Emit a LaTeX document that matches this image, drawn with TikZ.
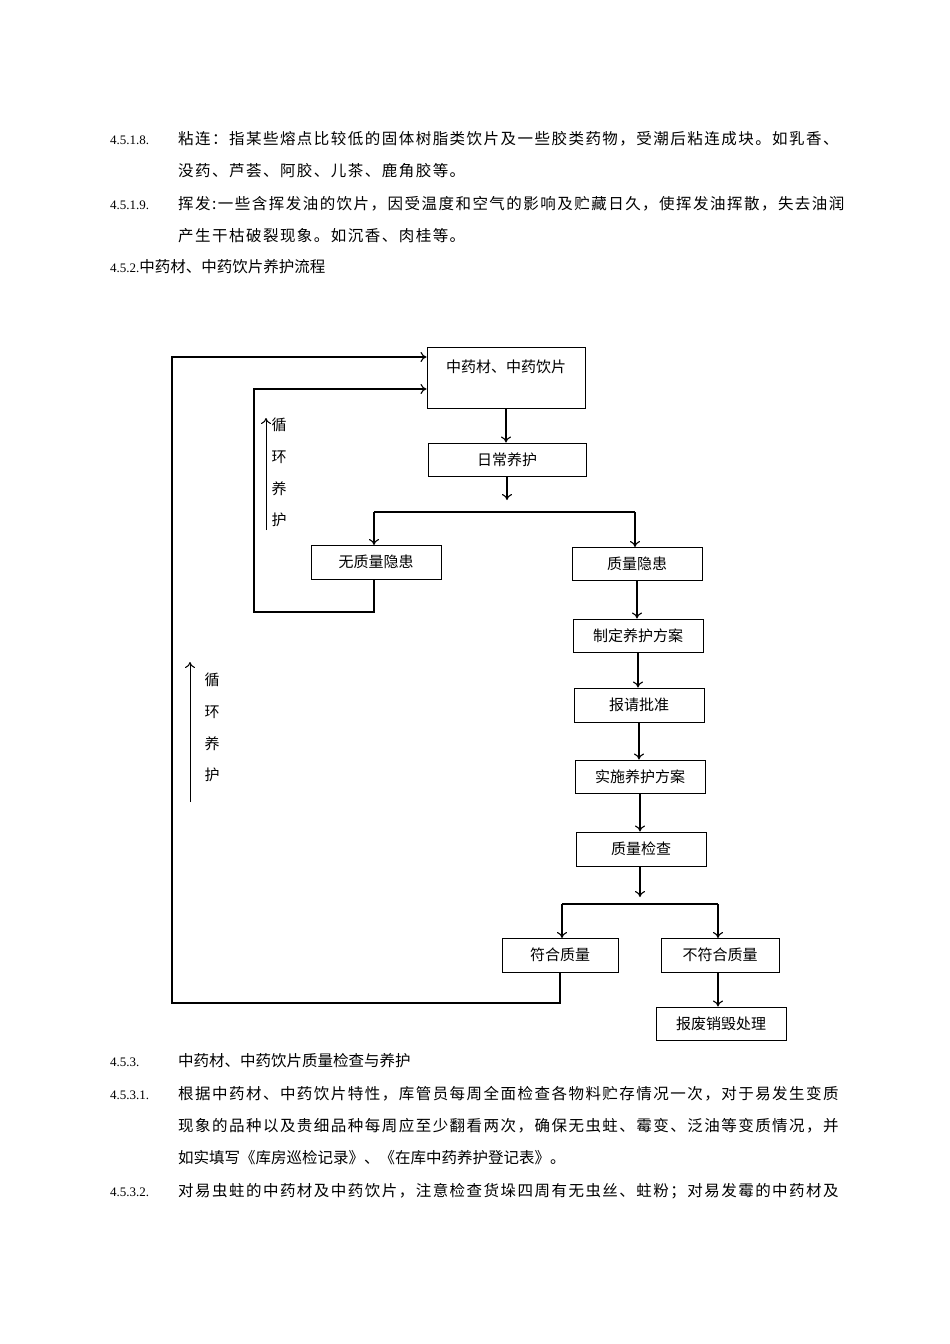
\documentclass[tikz,border=0pt]{standalone}
\usepackage{fontspec}
\usetikzlibrary{arrows.meta}
\setmainfont{Liberation Serif}
\newfontfamily\cjk[LetterSpace=9.5]{Noto Sans CJK SC}
\newfontfamily\cjkn{Noto Sans CJK SC}
\begin{document}
\begin{tikzpicture}[x=1pt,y=-1pt,
  txt/.style={anchor=base west,inner sep=0pt,font=\fontsize{15.5}{18}\selectfont\cjk},
  num/.style={anchor=base west,inner sep=0pt,font=\fontsize{13}{16}\selectfont},
  fbox/.style={draw,line width=1pt,inner sep=0pt,font=\fontsize{15}{18}\selectfont\cjkn},
  arr/.style={-{To[length=6pt,width=10pt]},line width=1.1pt},
  ln/.style={line width=1.1pt},
  vlab/.style={inner sep=0pt,font=\fontsize{15}{18}\selectfont\cjkn}]
\useasboundingbox (0,0) rectangle (950,1344);
% body text
\node[num] (n1) at (110,144) {4.5.1.8.};
\node[txt] (t1) at (178,144) {粘连：指某些熔点比较低的固体树脂类饮片及一些胶类药物，受潮后粘连成块。如乳香、};
\node[txt] (t2) at (178,176) {没药、芦荟、阿胶、儿茶、鹿角胶等。};
\node[num] (n2) at (110,209) {4.5.1.9.};
\node[txt] (t3) at (178,209) {挥发:一些含挥发油的饮片，因受温度和空气的影响及贮藏日久，使挥发油挥散，失去油润};
\node[txt] (t4) at (178,241) {产生干枯破裂现象。如沉香、肉桂等。};
\node[txt,font=\fontsize{15.5}{18}\selectfont\cjkn] (t5) at (110,272) {\fontsize{13}{16}\selectfont\rmfamily 4.5.2.\fontsize{15.5}{18}\selectfont\cjkn 中药材、中药饮片养护流程};
\node[num] (n3) at (110,1066) {4.5.3.};
\node[txt,font=\fontsize{15.5}{18}\selectfont\cjkn] (t6) at (178,1066) {中药材、中药饮片质量检查与养护};
\node[num] (n4) at (110,1099) {4.5.3.1.};
\node[txt] (t7) at (178,1099) {根据中药材、中药饮片特性，库管员每周全面检查各物料贮存情况一次，对于易发生变质};
\node[txt] (t8) at (178,1131) {现象的品种以及贵细品种每周应至少翻看两次，确保无虫蛀、霉变、泛油等变质情况，并};
\node[txt,font=\fontsize{15.5}{18}\selectfont\cjkn] (t9) at (178,1163) {如实填写《库房巡检记录》、《在库中药养护登记表》。};
\node[num] (n5) at (110,1196) {4.5.3.2.};
\node[txt] (t10) at (178,1196) {对易虫蛀的中药材及中药饮片，注意检查货垛四周有无虫丝、蛀粉；对易发霉的中药材及};
% boxes
\node[fbox,minimum width=158pt,minimum height=61pt] (A) at (506,377.5) {};
\node[inner sep=0pt,font=\fontsize{15}{18}\selectfont\cjkn] (At) at (506,367) {中药材、中药饮片};
\node[fbox,minimum width=158pt,minimum height=33pt] (B) at (507,459.5) {日常养护};
\node[fbox,minimum width=130pt,minimum height=34pt] (C) at (376,562) {无质量隐患};
\node[fbox,minimum width=130pt,minimum height=33pt] (D) at (637,563.5) {质量隐患};
\node[fbox,minimum width=130pt,minimum height=33pt] (E) at (638,635.5) {制定养护方案};
\node[fbox,minimum width=130pt,minimum height=34pt] (F) at (639,705) {报请批准};
\node[fbox,minimum width=130pt,minimum height=33pt] (G) at (640,776.5) {实施养护方案};
\node[fbox,minimum width=130pt,minimum height=34pt] (H) at (641,849) {质量检查};
\node[fbox,minimum width=116pt,minimum height=34pt] (I) at (560,955) {符合质量};
\node[fbox,minimum width=118pt,minimum height=34pt] (J) at (720,955) {不符合质量};
\node[fbox,minimum width=130pt,minimum height=33pt] (K) at (721,1023.5) {报废销毁处理};
% connectors
\coordinate (b1) at (507,500);
\coordinate (h1) at (640,897);
\draw[arr] (A.south) -- (A.south |- B.north);
\draw[arr] (B.south) -- (b1);
\draw[ln] (374,512) -- (635,512);
\draw[arr] (374,512) -- (374,545);
\draw[arr] (635,512) -- (635,547);
\draw[arr] (D.south -| 637,0) -- (E.north -| 637,0);
\draw[arr] (E.south -| 638,0) -- (F.north -| 638,0);
\draw[arr] (F.south -| 639,0) -- (G.north -| 639,0);
\draw[arr] (G.south -| 640,0) -- (H.north -| 640,0);
\draw[arr] (H.south -| 640,0) -- (h1);
\draw[ln] (562,904) -- (718,904);
\draw[arr] (562,904) -- (562,938);
\draw[arr] (718,904) -- (718,938);
\draw[arr] (J.south -| 718,0) -- (K.north -| 718,0);
% loops
\draw[arr] (C.south -| 374,0) -- (374,612) -- (254,612) -- (254,389) -- (A.west |- 0,389);
\draw[arr] (I.south -| 560,0) -- (560,1003) -- (172,1003) -- (172,357) -- (A.west |- 0,357);
% labels
\draw[arr,line width=1pt] (266,530) -- (266,418);
\node[vlab] (v1) at (279,425) {循};
\node[vlab] (v2) at (279,457) {环};
\node[vlab] (v3) at (279,489) {养};
\node[vlab] (v4) at (279,520) {护};
\draw[arr,line width=1pt] (190,802) -- (190,662);
\node[vlab] (w1) at (212,680) {循};
\node[vlab] (w2) at (212,712) {环};
\node[vlab] (w3) at (212,744) {养};
\node[vlab] (w4) at (212,775) {护};
\end{tikzpicture}
\end{document}
